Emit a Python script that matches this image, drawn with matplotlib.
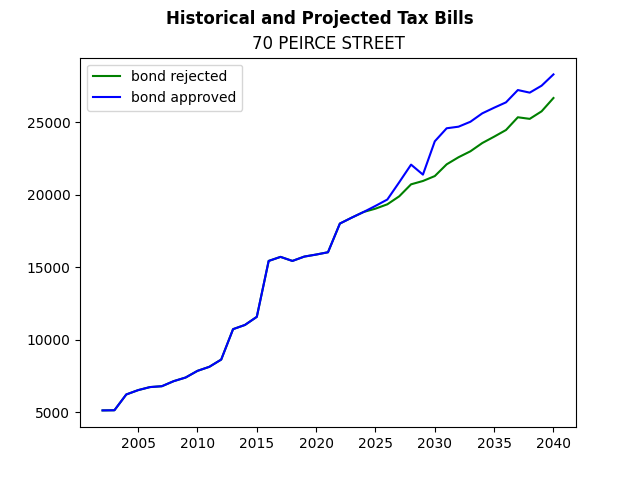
import matplotlib
matplotlib.use("Agg")
import matplotlib.pyplot as plt

years = list(range(2002, 2041))

# tax bills (same history until 2024)
history = [5120, 5130, 6220, 6520, 6730, 6790, 7140, 7390, 7850, 8130,
           8630, 10730, 11020, 11580, 15440, 15720, 15440, 15740, 15880, 16040,
           18020, 18430, 18820]
rejected = history + [19050, 19350, 19900, 20730, 20960, 21300, 22110, 22600,
                      23010, 23580, 24020, 24480, 25360, 25250, 25770, 26690]
approved = history + [19240, 19680, 20870, 22090, 21400, 23700, 24600, 24710,
                      25050, 25630, 26020, 26390, 27240, 27060, 27540, 28320]

fig, ax = plt.subplots(figsize=(6.4, 4.8), dpi=100)
ax.plot(years, rejected, color="green", label="bond rejected")
ax.plot(years, approved, color="blue", label="bond approved")
fig.suptitle("Historical and Projected Tax Bills", fontweight="bold")
ax.set_title("70 PEIRCE STREET")
ax.legend(loc="upper left")

plt.savefig("out.png")
